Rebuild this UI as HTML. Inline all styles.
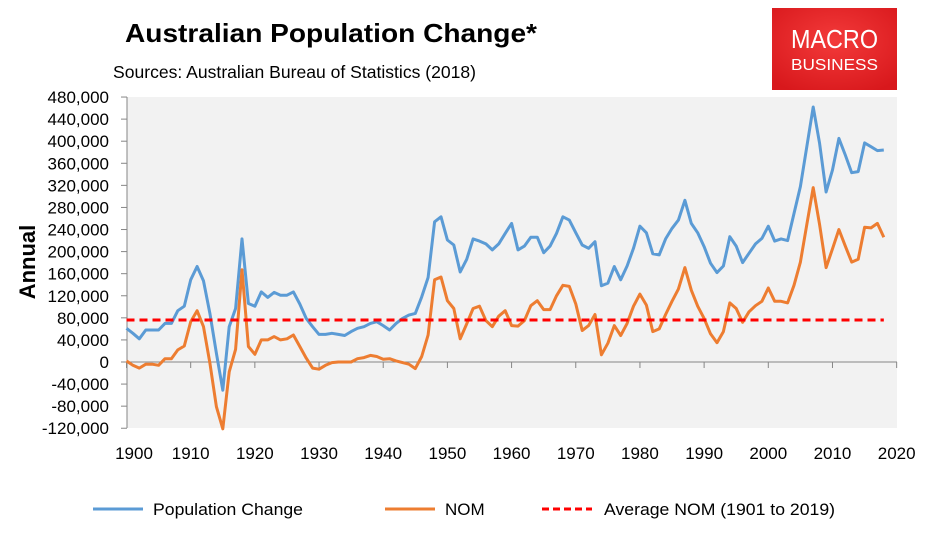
<!DOCTYPE html>
<html><head><meta charset="utf-8"><style>
body{margin:0;background:#fff;width:934px;height:538px;overflow:hidden;font-family:"Liberation Sans",Arial,sans-serif;}
svg text{font-family:"Liberation Sans",Arial,sans-serif;}
</style></head><body>
<svg id="chart" width="934" height="538">
<text x="125" y="42" font-size="26" font-weight="bold" fill="#000" textLength="412" lengthAdjust="spacingAndGlyphs">Australian Population Change*</text>
<text x="113" y="78" font-size="17.5" fill="#000" textLength="363" lengthAdjust="spacingAndGlyphs">Sources: Australian Bureau of Statistics (2018)</text>
<g>
<defs><radialGradient id="lg" cx="50%" cy="40%" r="70%"><stop offset="0" stop-color="#f33a3a"/><stop offset="1" stop-color="#d8181c"/></radialGradient></defs>
<rect x="772" y="8" width="125" height="82" fill="url(#lg)"/>
<text x="834.5" y="48" font-size="26" fill="#fff" text-anchor="middle" textLength="87" lengthAdjust="spacingAndGlyphs">MACRO</text>
<text x="834.5" y="70" font-size="16" fill="#fff" text-anchor="middle" textLength="87" lengthAdjust="spacingAndGlyphs">BUSINESS</text>
</g>
<rect x="127" y="97" width="770" height="331" fill="#f2f2f2"/>
<g id="axes"></g>
<g id="series"></g>
<text transform="translate(35,262) rotate(-90)" font-size="22" font-weight="bold" text-anchor="middle">Annual</text>
<g>
<g><line x1="93" y1="509" x2="143" y2="509" stroke="#5b9bd5" stroke-width="3"/><text x="153" y="515" font-size="17" textLength="150" lengthAdjust="spacingAndGlyphs">Population Change</text></g>
<g><line x1="385" y1="509" x2="435" y2="509" stroke="#ed7d31" stroke-width="3"/><text x="445" y="515" font-size="17">NOM</text></g>
<g><line x1="542" y1="509" x2="592" y2="509" stroke="#ff0000" stroke-width="3" stroke-dasharray="7,4"/><text x="604" y="515" font-size="17" textLength="231" lengthAdjust="spacingAndGlyphs">Average NOM (1901 to 2019)</text></g>
</g>
</svg>
<script>
const years = [];
for (let y = 1900; y <= 2018; y++) years.push(y);
const popChange = [61,52,42,58,58,58,70,70,93,101,149,173,147,88,16,-51,64,97,223,106,101,127,117,126,121,121,127,105,79,64,50,50,52,50,48,55,61,64,70,73,66,58,70,79,85,88,118,153,254,263,221,212,163,186,223,219,214,203,214,233,251,203,210,226,226,198,210,233,263,257,234,212,206,218,138,143,173,149,174,206,246,234,196,194,223,242,257,293,251,234,209,179,162,174,227,210,180,197,214,224,246,219,223,220,269,318,390,462,396,308,348,405,375,343,345,397,390,383,384];
const nom = [2,-6,-11,-4,-4,-6,6,6,22,29,73,93,64,-2,-81,-121,-18,23,167,28,14,40,40,46,40,42,49,28,7,-11,-13,-6,-1,0,0,0,6,8,12,10,5,6,2,-1,-4,-12,10,49,149,154,111,97,42,69,97,101,75,64,83,93,66,65,75,102,111,95,95,120,139,137,105,57,66,86,13,34,66,48,70,101,123,103,55,60,86,110,132,171,130,101,79,51,35,55,107,97,72,91,102,110,134,110,110,107,139,181,249,316,249,171,205,240,210,181,186,244,243,251,226];
const avgNom = 76;
const avgRange = [1900, 2018];
const yTicks = [-120,-80,-40,0,40,80,120,160,200,240,280,320,360,400,440,480];
const xTicks = [1900,1910,1920,1930,1940,1950,1960,1970,1980,1990,2000,2010,2020];

const NS = "http://www.w3.org/2000/svg";
const X0 = 126.5, XS = 6.418;
const xOf = yr => X0 + (yr - 1900) * XS;
const yOf = v => 362 - v * 22.08 / 40;
function mk(tag, attrs, parent){const e=document.createElementNS(NS,tag);for(const k in attrs)e.setAttribute(k,attrs[k]);parent.appendChild(e);return e;}
const axes = document.getElementById('axes');
const series = document.getElementById('series');
const fmt = v => v === 0 ? "0" : (v*1000).toLocaleString('en-US');

const yAxis = mk('line',{x1:127,y1:97,x2:127,y2:428,stroke:'#868686','stroke-width':1},axes);


yTicks.forEach(v=>{
  const yy = yOf(v);
  mk('line',{x1:121,y1:yy,x2:127,y2:yy,stroke:'#868686'},axes);
  const t = mk('text',{x:109,y:yy+6,'font-size':17,'text-anchor':'end',fill:'#000'},axes);
  t.textContent = fmt(v);
  
  
});
const xAxis = mk('line',{x1:127,y1:yOf(0),x2:897,y2:yOf(0),stroke:'#868686','stroke-width':1},axes);


xTicks.forEach(yr=>{
  const xx = xOf(yr);
  mk('line',{x1:xx,y1:yOf(0),x2:xx,y2:yOf(0)+6,stroke:'#868686'},axes);
  const t = mk('text',{x:yr===1900?134:xx,y:459,'font-size':17,'text-anchor':'middle',fill:'#000'},axes);
  t.textContent = yr;
  
  
});

function line(vals, color, name){
  const d = vals.map((v,i)=>(i?'L':'M')+xOf(years[i]).toFixed(1)+','+yOf(v).toFixed(1)).join(' ');
  const p = mk('path',{d:d,fill:'none',stroke:color,'stroke-width':3,'stroke-linejoin':'round'},series);
  
  
}
line(popChange,'#5b9bd5','population-change-line');
line(nom,'#ed7d31','nom-line');
const avg = mk('line',{x1:xOf(avgRange[0]),y1:yOf(avgNom),x2:xOf(avgRange[1]),y2:yOf(avgNom),stroke:'#ff0000','stroke-width':3,'stroke-dasharray':'8,5'},series);


</script>
</body></html>
